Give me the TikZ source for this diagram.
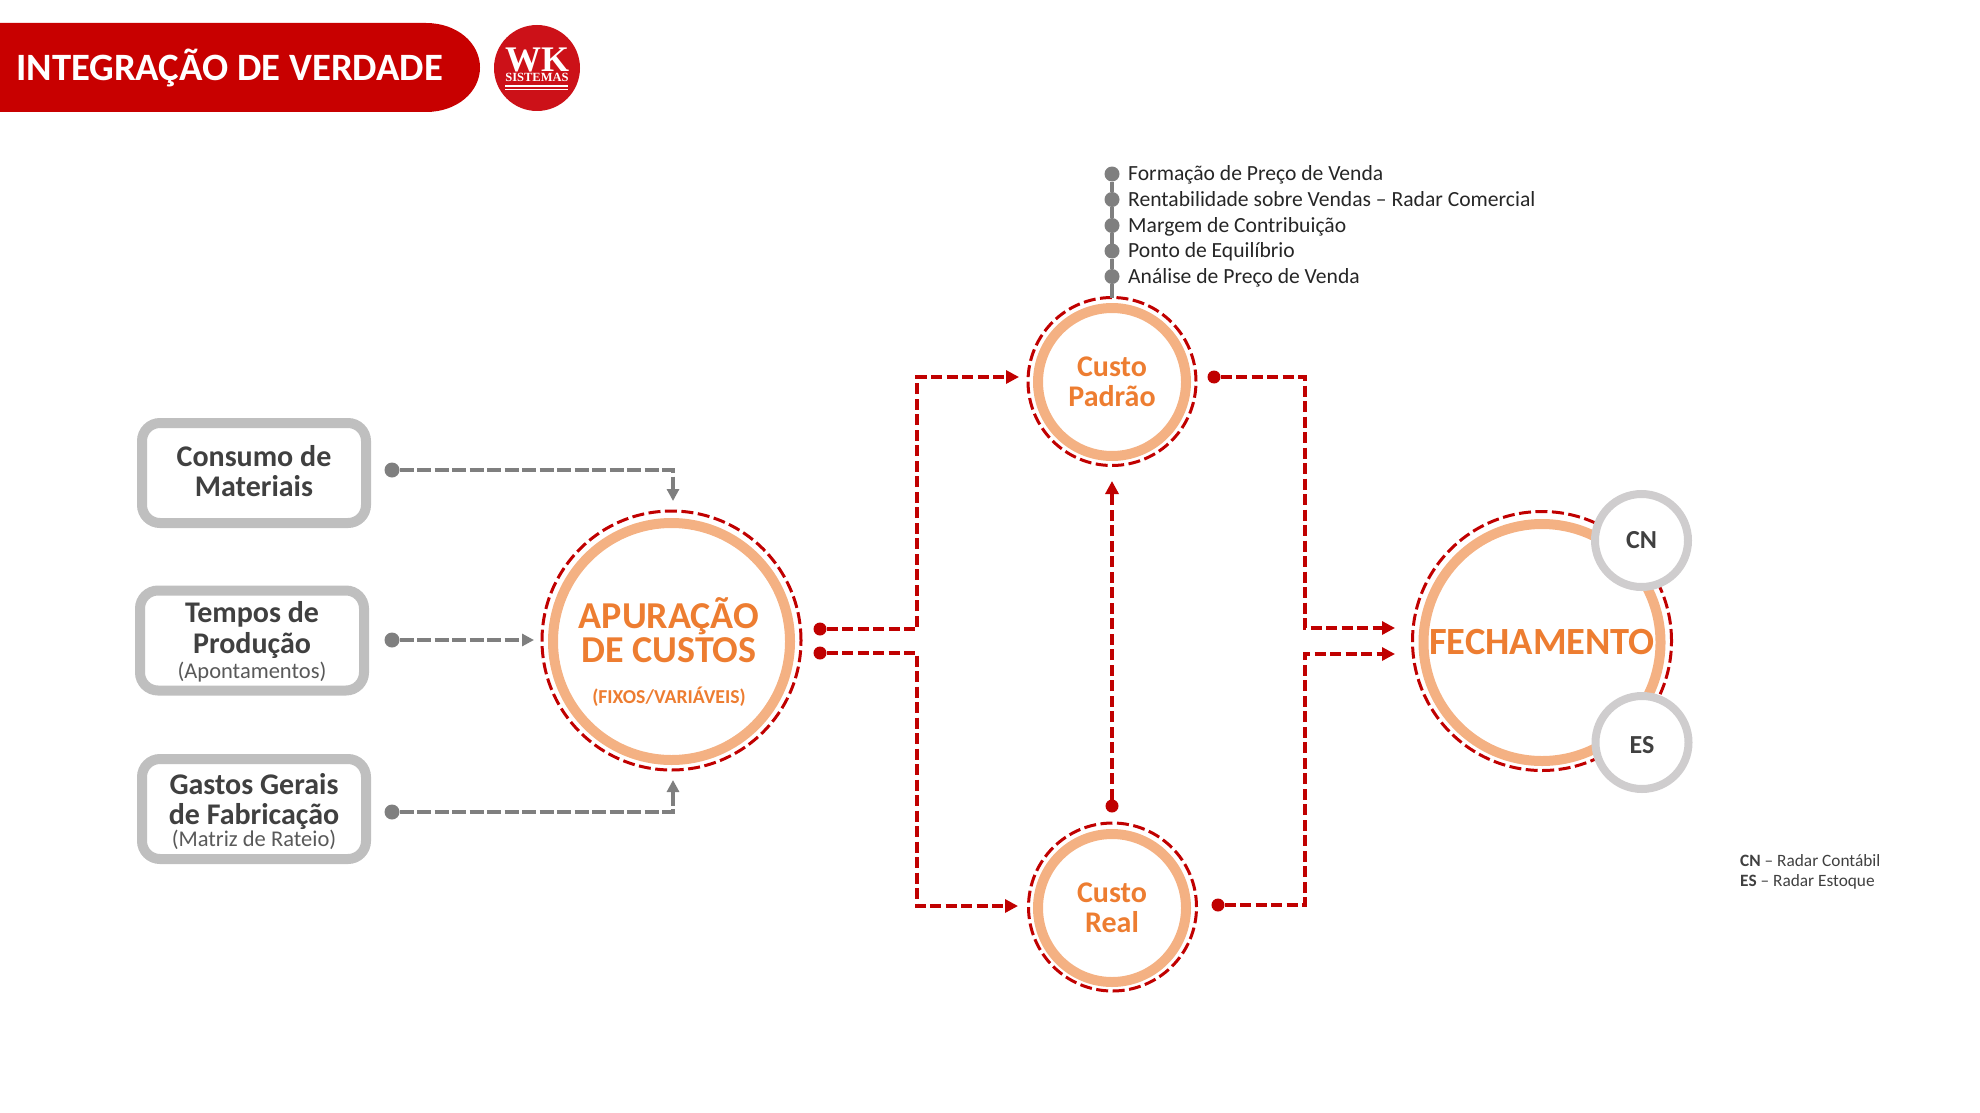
\documentclass[tikz,border=0pt]{standalone}
\usepackage{fontspec}
\setmainfont{Carlito}
\newfontfamily\logofont{Liberation Serif}
\usetikzlibrary{arrows.meta}
\definecolor{bannerred}{HTML}{C80000}
\definecolor{logored}{HTML}{CC1118}
\definecolor{dashred}{HTML}{C00000}
\definecolor{ringorange}{HTML}{F4B183}
\definecolor{textorange}{HTML}{ED7D31}
\definecolor{boxgrey}{HTML}{BFBFBF}
\definecolor{satgrey}{HTML}{CFCDCE}
\definecolor{linkgrey}{HTML}{7F7F7F}
\definecolor{darktext}{HTML}{404040}
\definecolor{subtext}{HTML}{595959}
\newcommand{\fs}[1]{\fontsize{#1}{#1}\selectfont}
\newcommand{\subtxt}{\mdseries\fs{22.5}\color{subtext}}
\tikzset{
  x=1pt,y=-1pt,
  srcbox/.style={draw=boxgrey,line width=10pt,rounded corners=18pt,fill=white,inner sep=0pt,outer sep=0pt,
    minimum width=224pt,minimum height=100pt},
  srctext/.style={inner sep=0pt,align=center,text=darktext,font=\bfseries\fs{30}},
  ring/.style={circle,draw=ringorange,line width=10pt,inner sep=0pt,outer sep=0pt,align=center,text=textorange,font=\bfseries\fs{30}},
  dashring/.style={circle,draw=dashred,line width=3pt,dash pattern=on 12pt off 4.5pt,inner sep=0pt,outer sep=0pt},
  sat/.style={circle,draw=satgrey,line width=8pt,fill=white,minimum size=93pt,inner sep=0pt,outer sep=0pt,text=darktext,font=\bfseries\fs{26}},
  greydot/.style={circle,fill=linkgrey,minimum size=15pt,inner sep=0pt,outer sep=0pt},
  reddot/.style={circle,fill=dashred,minimum size=13pt,inner sep=0pt,outer sep=0pt},
  greylink/.style={draw=linkgrey,line width=4pt,dash pattern=on 14pt off 3.5pt,-{Triangle[length=12pt,width=12pt]}},
  chainlink/.style={draw=linkgrey,line width=3.5pt,dash pattern=on 20pt off 4pt},
  redlink/.style={draw=dashred,line width=3.2pt,dash pattern=on 11pt off 4.5pt,-{Triangle[length=13pt,width=13pt]}},
  listitem/.style={anchor=mid west,inner sep=0pt,text=black!85,font=\fs{21.6}},
  legend/.style={anchor=mid west,inner sep=0pt,text=darktext,font=\fs{17.3}}
}
\begin{document}
\begin{tikzpicture}
\useasboundingbox (0,0) rectangle (1980,1113);
% banner
\fill[bannerred] (0,23) -- (426,23) .. controls (457,23) and (480,43) .. (480,67.5) .. controls (480,92) and (457,112) .. (426,112) -- (0,112) -- cycle;
\node[anchor=mid west,inner sep=0pt,text=white,font=\bfseries\fs{38.7}] (title) at (16,78) {INTEGRAÇÃO DE VERDADE};
% logo
\node[circle,fill=logored,minimum size=86pt,inner sep=0pt] (logo) at (537,68) {};
\node[inner sep=0pt,text=white,font=\logofont\bfseries\fs{36},align=center] (logotext) at (537,64.5) {WK\\[-26pt]{\fs{12.5}SISTEMAS}};
\coordinate (u1a) at (505,86); \coordinate (u1b) at (568,86);
\coordinate (u2a) at (505,89.5); \coordinate (u2b) at (568,89.5);
\draw[white,line width=1.3pt] (u1a) -- (u1b) (u2a) -- (u2b);
% source boxes
\node[srcbox] (consumo) at (254,473) {};
\node[srctext] (consumot) at (254,471) {Consumo de\\[0.5pt]Materiais};
\node[srcbox] (tempos) at (252,640.5) {};
\node[srctext] (tempost) at (252,642) {Tempos de\\[0.5pt]Produção\\[-4.5pt]{\subtxt (Apontamentos)}};
\node[srcbox] (gastos) at (254,809) {};
\node[srctext] (gastost) at (254,811.5) {Gastos Gerais\\[0.5pt]de Fabricação\\[-8.5pt]{\subtxt (Matriz de Rateio)}};
% circles
\node[dashring,minimum size=259pt] (apd) at (671.5,640.5) {};
\node[ring,minimum size=237pt,font=\bfseries\fs{38}] (ap) at (671.5,641.5) {};
\node[inner sep=0pt,text=textorange,font=\bfseries\fs{38},align=center] (aptext) at (669,630) {APURAÇÃO\\[-4pt]DE CUSTOS};
\node[inner sep=0pt,text=textorange,font=\bfseries\fs{19.7}] (apsub) at (669,696.5) {(FIXOS/VARIÁVEIS)};
\node[dashring,minimum size=168pt] (pad) at (1112,381.5) {};
\node[ring,minimum size=148pt] (pa) at (1112,382) {Custo\\[0pt]Padrão};
\node[dashring,minimum size=168pt] (red) at (1112.5,907) {};
\node[ring,minimum size=148pt] (re) at (1112,908) {Custo\\[0pt]Real};
\node[dashring,minimum size=259pt] (fed) at (1542,641) {};
\node[ring,minimum size=237pt,font=\bfseries\fs{38.5}] (fe) at (1542,642.5) {FECHAMENTO};
\node[sat] (cn) at (1641.5,540.5) {CN};
\node[sat] (es) at (1642,742.5) {\rule{0pt}{22pt}ES};
% grey connectors
\node[greydot] (dc) at (392,470) {};
\node[greydot] (dt) at (392,640) {};
\node[greydot] (dg) at (392,812) {};
\coordinate (tc) at (673,501);
\coordinate (tt) at (534,640);
\coordinate (tg) at (673,780);
\draw[greylink] (dc) -| (tc);
\draw[greylink] (dt) -- (tt);
\draw[greylink] (dg) -| (tg);
% list
\node[greydot] (l1) at (1112,174) {};
\node[greydot] (l2) at (1112,199.5) {};
\node[greydot] (l3) at (1112,225.5) {};
\node[greydot] (l4) at (1112,251) {};
\node[greydot] (l5) at (1112,276.5) {};
\draw[chainlink] (l5) -- (pad.north);
\draw[chainlink] (l1) -- (l2);
\draw[chainlink] (l2) -- (l3);
\draw[chainlink] (l3) -- (l4);
\draw[chainlink] (l4) -- (l5);
\node[listitem] (t1) at (1128,178) {Formação de Preço de Venda};
\node[listitem] (t2) at (1128,204) {Rentabilidade sobre Vendas – Radar Comercial};
\node[listitem] (t3) at (1128,230) {Margem de Contribuição};
\node[listitem] (t4) at (1128,255.5) {Ponto de Equilíbrio};
\node[listitem] (t5) at (1128,281.5) {Análise de Preço de Venda};
% red connectors
\node[reddot] (a1) at (820,629) {};
\node[reddot] (a2) at (820,653) {};
\node[reddot] (po) at (1214,377) {};
\node[reddot] (ro) at (1218,905) {};
\node[reddot] (ru) at (1112,806) {};
\coordinate (tp) at (1019,377);
\coordinate (tr) at (1018,906);
\coordinate (tu) at (1112,481);
\coordinate (tf1) at (1395,628);
\coordinate (tf2) at (1395,654);
\coordinate (ba) at (917,629);
\coordinate (bf) at (1305,628);
\draw[redlink] (a1) -- (ba) |- (tp);
\draw[redlink] (a2) -| (ba |- tr) -- (tr);
\draw[redlink] (po) -| (bf) -- (tf1);
\draw[redlink] (ro) -| (bf |- tf2) -- (tf2);
\draw[redlink] (ru) -- (tu);
% legend
\node[legend] (lg1) at (1740,864) {\textbf{CN} – Radar Contábil};
\node[legend] (lg2) at (1740,884) {\textbf{ES} – Radar Estoque};
\end{tikzpicture}
\end{document}
